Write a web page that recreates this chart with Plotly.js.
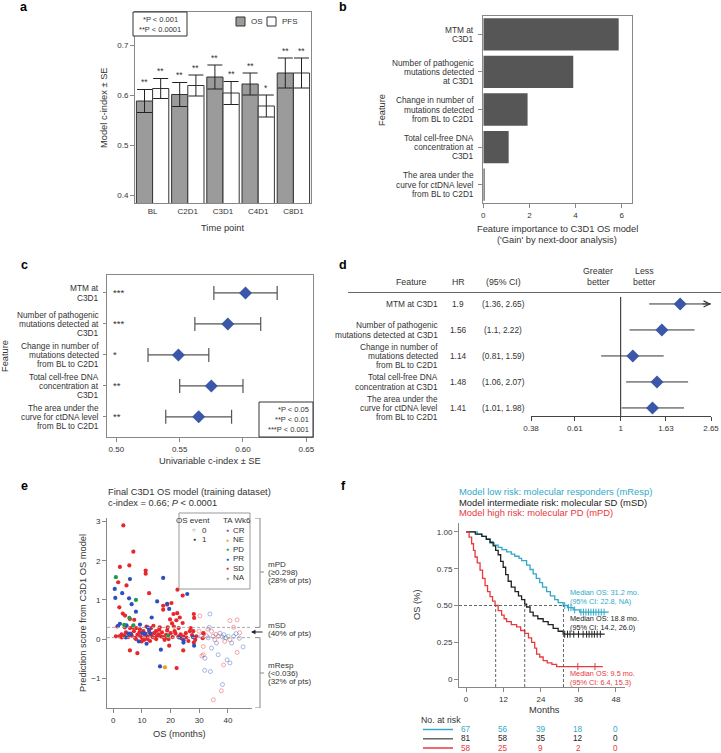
<!DOCTYPE html>
<html><head><meta charset="utf-8">
<script src="https://cdn.plot.ly/plotly-3.0.1.min.js"></script>
<style>html,body{margin:0;padding:0;background:#fff}#chart{width:721px;height:753px}</style>
</head><body><div id="chart"></div>
<script>
const W = 721, H = 753;
const FONT = 'Liberation Sans, Arial, sans-serif';
const TXT = '#333';

// ---------- panel a data ----------
const aCats = ['BL', 'C2D1', 'C3D1', 'C4D1', 'C8D1'];
const aOS = [0.588, 0.601, 0.636, 0.622, 0.644];
const aOSse = [0.023, 0.024, 0.024, 0.022, 0.030];
const aPFS = [0.613, 0.619, 0.604, 0.578, 0.644];
const aPFSse = [0.020, 0.021, 0.023, 0.022, 0.030];
const aOSsig = ['**', '**', '**', '**', '**'];
const aPFSsig = ['**', '**', '**', '*', '**'];
const aTicks = [0.4, 0.5, 0.6, 0.7];

// ---------- panel b data ----------
const bFeatures = ['MTM at<br>C3D1', 'Number of pathogenic<br>mutations detected<br>at C3D1', 'Change in number of<br>mutations detected<br>from BL to C2D1', 'Total cell-free DNA<br>concentration at<br>C3D1', 'The area under the<br>curve for ctDNA level<br>from BL to C2D1'];
const bGain = [5.87, 3.90, 1.92, 1.10, 0.06];
const bTicks = [0, 2, 4, 6];

// ---------- panel c data ----------
const cFeatures = ['MTM at<br>C3D1', 'Number of pathogenic<br>mutations detected at<br>C3D1', 'Change in number of<br>mutations detected<br>from BL to C2D1', 'Total cell-free DNA<br>concentration at<br>C3D1', 'The area under the<br>curve for ctDNA level<br>from BL to C2D1'];
const cCindex = [0.602, 0.588, 0.549, 0.575, 0.565];
const cSE = [0.025, 0.026, 0.024, 0.025, 0.026];
const cSig = ['***', '***', '*', '**', '**'];
const cTicks = [0.50, 0.55, 0.60, 0.65];
const cTickText = ['0.50', '0.55', '0.60', '0.65'];

// ---------- panel d data ----------
const dFeatures = ['MTM at C3D1', 'Number of pathogenic<br>mutations detected at C3D1', 'Change in number of<br>mutations detected<br>from BL to C2D1', 'Total cell-free DNA<br>concentration at C3D1', 'The area under the<br>curve for ctDNA level<br>from BL to C2D1'];
const dHR = [1.9, 1.56, 1.14, 1.48, 1.41];
const dLo = [1.36, 1.1, 0.81, 1.06, 1.01];
const dHi = [2.65, 2.22, 1.59, 2.07, 1.98];
const dHRtext = ['1.9', '1.56', '1.14', '1.48', '1.41'];
const dCItext = ['(1.36, 2.65)', '(1.1, 2.22)', '(0.81, 1.59)', '(1.06, 2.07)', '(1.01, 1.98)'];
const dTicks = [0.38, 0.61, 1, 1.63, 2.65];
const dTickText = ['0.38', '0.61', '1', '1.63', '2.65'];

// ---------- panel e data (OS months, prediction score) ----------
const eSD1_os = [3.5,7.0,2.3,5.6,11.3,11.3,1.7,4.6,12.5,22.4,24.2,2.1,3.3,4.1,1.4,5.8,7.3,17.4,18.8,17.4,20.3,21.0,23.2,22.3,22.0,28.1,28.2,24.2,27.0,21.1,16.0,0.9,2.1,2.9,3.8,4.4,5.2,5.8,6.4,7.2,7.9,8.4,9.1,9.5,9.9,10.5,11.0,11.6,11.8,12.5,13.0,13.7,14.2,14.9,15.3,16.5,17.0,17.4,17.9,18.4,18.8,19.3,19.5,20.0,20.7,21.7,22.7,23.8,24.5,25.3,26.7,27.9,29.0,31.2,31.4,28.1,24.4,5.8,8.4,22.1,6.8,8.0,9.3,10.2,12.0,13.2,14.6,15.8,16.2,19.0,20.5,21.4,22.8,25.5,26.2,3.0,4.0,6.0,7.6,10.8,12.8,14.0,15.0,18.0,19.8,23.5,27.5,28.6];
const eSD1_score = [2.9,2.23,1.84,1.88,1.75,1.67,1.45,1.37,1.17,1.26,1.11,0.81,0.65,0.6,0.32,0.51,0.49,0.85,0.88,0.75,0.92,0.64,0.55,0.66,0.48,0.64,0.54,0.41,0.28,0.32,0.24,0.07,0.07,0.12,0.09,0.17,0.05,0.28,0.09,0.2,0.0,0.11,0.17,0.07,-0.06,0.2,0.11,0.32,0.07,0.18,0.11,0.05,0.15,0.2,0.09,0.07,0.17,0.05,-0.02,0.11,0.22,0.0,-0.17,0.15,0.05,0.14,0.06,0.02,0.06,0.15,0.2,0.2,0.07,0.02,0.15,-0.09,-0.29,-0.29,-0.36,-0.74,0.3,0.28,0.25,0.02,0.0,0.28,0.03,0.12,0.3,0.3,0.4,0.2,0.28,0.04,-0.05,0.04,0.3,0.14,0.03,-0.02,-0.05,0.34,0.0,0.02,0.5,0.12,0.1,-0.02];
const ePR1_os = [0.5,0.7,3.1,5.8,5.5,6.4,7.9,17.4,15.3,18.8,19.5,13.4,2.3,1.7,4.6,5.2,4.4,9.3,12.5,8.9,11.6,16.6,16.3,25.8,24.5,24.5,28.2,10.2,11.2,12.0,13.0,6.2,27.8,23.0];
const ePR1_score = [1.28,1.05,1.17,1.53,1.04,0.89,0.70,1.56,0.96,0.9,0.77,0.55,0.39,0.34,0.35,0.14,0.04,0.37,0.24,-0.06,-0.12,-0.27,-0.7,1.15,-0.03,-0.09,-0.17,0.15,0.13,0.3,0.14,0.12,0.05,0.04];
const ePD1_os = [0.9,7.9,5.6,3.8,7.0,19.2];
const ePD1_score = [1.58,1.0,0.54,0.36,0.35,0.09];
const eNE1_os = [18.0];
const eNE1_score = [-0.72];
const eSD0_os = [30.2,40.7,43.2,34.3,29.9,31.6,32.5,35.4,36.6,40.7,44.1,31.4,31.4,43.2,38.5,37.7,34.9,38.9,30.9,33.0,35.8,42.0];
const eSD0_score = [0.59,0.47,0.49,0.2,0.2,0.14,0.08,-0.02,0.07,-0.02,0.16,-0.19,-0.4,-0.34,-0.66,-1.32,-1.55,-0.06,-0.43,0.25,0.12,0.3];
const ePR0_os = [33.7,33.5,30.8,33.1,34.8,37.2,38.1,38.6,39.3,42.0,42.8,45.3,34.3,36.6,39.7,40.7,31.9,33.9,38.1,36.0,41.3,32.0,44.0];
const ePR0_score = [0.64,0.30,0.08,0.03,0.07,0.15,0.05,0.11,0.03,0.07,0.14,-0.2,-0.23,-0.4,-0.53,-0.61,-0.8,-0.83,-1.16,-0.1,-0.1,-0.49,0.02];
const ePD0_os = [40.1];
const ePD0_score = [0.07];
const eCutHigh = 0.298, eCutLow = 0.036;
const eTAclasses = ['CR', 'NE', 'PD', 'PR', 'SD', 'NA'];
const eTAcolors = ['#8e44ad', '#f39c12', '#1f9a4a', '#2c4fc0', '#e8262b', '#8a8a8a'];
const eXticks = [0, 10, 20, 30, 40];
const eYticks = [-1, 0, 1, 2, 3];
const eYrange = [-1.76, 3.09];

// ---------- panel f data (Kaplan-Meier) ----------
const fCyanT = [0,3.6,5.0,6.5,7.7,9.0,10.3,11.5,13.0,14.5,15.6,17.0,17.8,19.4,20.5,21.5,22.5,23.6,24.5,25.8,27.0,28.4,29.5,31.1,32.5,34.3,36.4,45.7];
const fCyanS = [1,0.985,0.97,0.955,0.925,0.91,0.895,0.88,0.865,0.85,0.835,0.82,0.805,0.775,0.745,0.715,0.685,0.655,0.625,0.595,0.565,0.54,0.52,0.50,0.485,0.47,0.455,0.455];
const fBlackT = [0,3.0,5.1,6.5,7.7,8.7,9.5,10.3,11.1,11.9,12.7,13.5,14.5,15.7,16.8,17.8,18.8,19.4,20.5,21.5,23.0,24.7,26.3,27.9,29.5,31.1,44.4];
const fBlackS = [1,0.985,0.97,0.95,0.93,0.905,0.875,0.845,0.80,0.76,0.71,0.665,0.625,0.595,0.565,0.54,0.51,0.49,0.455,0.43,0.41,0.39,0.37,0.345,0.325,0.305,0.305];
const fRedT = [0,1.0,1.8,2.4,2.9,3.6,4.5,5.3,6.1,6.9,7.7,8.5,9.3,10.3,11.4,12.2,13.0,14.5,16.2,17.5,18.8,20.0,21.0,22.0,22.6,23.6,24.7,26.0,27.5,29.0,43.8];
const fRedS = [1,0.965,0.92,0.875,0.83,0.79,0.74,0.685,0.635,0.595,0.56,0.53,0.50,0.465,0.435,0.41,0.39,0.37,0.355,0.33,0.31,0.28,0.25,0.21,0.17,0.15,0.125,0.11,0.10,0.085,0.085];
const fCyanCens = [31.6,32.8,33.6,34.8,36.8,37.6,38.4,39.2,40.0,40.8,41.6,42.5,43.3,44.2];
const fBlackCens = [31.6,32.5,33.3,34.5,36.0,37.5,38.6,39.4,40.3,41.1,42.0,43.0];
const fRedCens = [35.8,41.3];
const fMedians = [31.2, 18.8, 9.5];
const fRiskTimes = [0, 12, 24, 36, 48];
const fRiskCyan = [67, 56, 39, 18, 0];
const fRiskBlack = [81, 58, 35, 12, 0];
const fRiskRed = [58, 25, 9, 2, 0];
const fXrange = [-2.24, 50.9];
const fYrange = [-0.054, 1.061];
const CYAN = '#31a9c7', RED = '#e8393e', BLK = '#222';

// ---------- helpers ----------
const px = x => x / W;
const py = y => 1 - y / H;
function A(text, x, y, o = {}) {
  const font = Object.assign({family: FONT, size: 8, color: TXT}, o.font || {});
  return Object.assign({text, xref: 'paper', yref: 'paper', x: px(x), y: py(y), showarrow: false,
    xanchor: 'center', yanchor: 'middle'}, o, {font});
}
function mlines(text, xPaper, yref, yval, lineH, size, xanchor) {
  const L = text.split('<br>');
  return L.map((s, k) => ({text: s, xref: 'paper', x: xPaper, xanchor: xanchor || 'right',
    yref, y: yval, yanchor: 'middle', yshift: ((L.length - 1) / 2 - k) * lineH, showarrow: false,
    font: {family: FONT, size, color: TXT}}));
}
function ax(o) {
  return Object.assign({showgrid: false, zeroline: false, ticks: 'outside', ticklen: 4, tickwidth: 1,
    tickcolor: '#888', linecolor: '#888', linewidth: 1, showline: true, fixedrange: true,
    tickfont: {family: FONT, size: 8, color: TXT}}, o);
}
function stepAt(ts, ss, t) { let v = ss[0]; for (let i = 0; i < ts.length; i++) if (ts[i] <= t) v = ss[i]; return v; }

const traces = [];
const annotations = [];
const shapes = [];

// ---------- panel a ----------
traces.push({type: 'bar', x: aCats, y: aOS, name: 'OS', xaxis: 'x', yaxis: 'y',
  marker: {color: '#9b9b9b', line: {color: '#333', width: 1}},
  error_y: {type: 'data', array: aOSse, color: '#222', thickness: 1, width: 7.5}});
traces.push({type: 'bar', x: aCats, y: aPFS, name: 'PFS', xaxis: 'x', yaxis: 'y',
  marker: {color: '#ffffff', line: {color: '#333', width: 1}},
  error_y: {type: 'data', array: aPFSse, color: '#222', thickness: 1, width: 7.5}});
aCats.forEach((c, i) => {
  annotations.push({text: aOSsig[i], xref: 'x', yref: 'y', x: c, y: aOS[i] + aOSse[i], xshift: -8.1, xanchor: 'center', yanchor: 'bottom', showarrow: false, font: {family: FONT, size: 8.5, color: TXT}});
  annotations.push({text: aPFSsig[i], xref: 'x', yref: 'y', x: c, y: aPFS[i] + aPFSse[i], xshift: 8.1, xanchor: 'center', yanchor: 'bottom', showarrow: false, font: {family: FONT, size: 8.5, color: TXT}});
});
shapes.push({type: 'rect', xref: 'paper', yref: 'paper', x0: px(133), x1: px(187), y0: py(36), y1: py(12), fillcolor: '#fff', line: {color: '#333', width: 1}, layer: 'above'});
annotations.push(A('*P &lt; 0.001', 160, 20, {font: {size: 7.5}}));
annotations.push(A('**P &lt; 0.0001', 160, 30, {font: {size: 7.5}}));
shapes.push({type: 'rect', xref: 'paper', yref: 'paper', x0: px(236), x1: px(245), y0: py(26), y1: py(17), fillcolor: '#9b9b9b', line: {color: '#333', width: 1}});
annotations.push(A('OS', 249, 21.5, {xanchor: 'left', font: {size: 8}}));
shapes.push({type: 'rect', xref: 'paper', yref: 'paper', x0: px(267), x1: px(276), y0: py(26), y1: py(17), fillcolor: '#fff', line: {color: '#333', width: 1}});
annotations.push(A('PFS', 280, 21.5, {xanchor: 'left', font: {size: 8}}));
annotations.push(A('Model c-index ± SE', 104, 108, {textangle: -90, font: {size: 9.3}}));
annotations.push(A('Time point', 223, 228, {font: {size: 9.3}}));

// ---------- panel b ----------
traces.push({type: 'bar', orientation: 'h', x: bGain, y: bFeatures.map((_, i) => i), xaxis: 'x2', yaxis: 'y2',
  marker: {color: '#565656'}, width: 0.86});
bFeatures.forEach((f, i) => annotations.push(...mlines(f, px(476), 'y2', i, 9.2, 8.3)));
annotations.push(A('Feature', 382, 110, {textangle: -90, font: {size: 9.3}}));
annotations.push(A('Feature importance to C3D1 OS model', 557, 229, {font: {size: 9.3}}));
annotations.push(A("('Gain' by next-door analysis)", 557, 240, {font: {size: 9.3}}));

// ---------- panel c ----------
traces.push({type: 'scatter', mode: 'markers', x: cCindex, y: cFeatures.map((_, i) => i), xaxis: 'x3', yaxis: 'y3',
  marker: {symbol: 'diamond', size: 10, color: '#3b57a8'},
  error_x: {type: 'data', array: cSE, color: '#555', thickness: 1.2, width: 7}});
cFeatures.forEach((f, i) => {
  annotations.push(...mlines(f, px(101), 'y3', i, 9.2, 8.3));
  annotations.push({text: cSig[i], xref: 'paper', x: px(111), xanchor: 'left', yref: 'y3', y: i, yanchor: 'middle', showarrow: false, font: {family: FONT, size: 9.5, color: TXT}});
});
shapes.push({type: 'rect', xref: 'paper', yref: 'paper', x0: px(259), x1: px(313), y0: py(437), y1: py(402), fillcolor: 'rgba(0,0,0,0)', line: {color: '#333', width: 1}});
annotations.push(A('*P &lt; 0.05', 311, 410, {xanchor: 'right', font: {size: 7.5}}));
annotations.push(A('**P &lt; 0.01', 311, 419.5, {xanchor: 'right', font: {size: 7.5}}));
annotations.push(A('***P &lt; 0.001', 311, 429, {xanchor: 'right', font: {size: 7.5}}));
annotations.push(A('Feature', 5, 356, {textangle: -90, font: {size: 9.3}}));
annotations.push(A('Univariable c-index ± SE', 210, 461, {font: {size: 9.3}}));

// ---------- panel d ----------
const dLineX = [], dLineY = [];
dHR.forEach((h, i) => { dLineX.push(dLo[i], dHi[i], null); dLineY.push(i, i, null); });
traces.push({type: 'scatter', mode: 'lines', x: dLineX, y: dLineY, xaxis: 'x4', yaxis: 'y4', line: {color: '#333', width: 1}, hoverinfo: 'skip'});
traces.push({type: 'scatter', mode: 'lines', x: [1, 1], y: [-0.27, 4.31], xaxis: 'x4', yaxis: 'y4', line: {color: '#222', width: 1}, hoverinfo: 'skip'});
traces.push({type: 'scatter', mode: 'markers', x: dHR, y: dHR.map((_, i) => i), xaxis: 'x4', yaxis: 'y4', marker: {symbol: 'diamond', size: 10, color: '#3b57a8'}});
annotations.push({text: '', xref: 'x4', yref: 'y4', x: Math.log10(dHi[0]), y: 0, ax: -10, ay: 0, axref: 'pixel', ayref: 'pixel', showarrow: true, arrowhead: 5, arrowsize: 1.2, arrowwidth: 1, arrowcolor: '#333'});
dFeatures.forEach((f, i) => {
  annotations.push(...mlines(f, px(440), 'y4', i, 9.2, 8.3));
  annotations.push({text: dHRtext[i], xref: 'paper', x: px(458), xanchor: 'center', yref: 'y4', y: i, yanchor: 'middle', showarrow: false, font: {family: FONT, size: 8.3, color: TXT}});
  annotations.push({text: dCItext[i], xref: 'paper', x: px(503), xanchor: 'center', yref: 'y4', y: i, yanchor: 'middle', showarrow: false, font: {family: FONT, size: 8.3, color: TXT}});
});
annotations.push(A('Feature', 411, 281.5, {font: {size: 8.8}}));
annotations.push(A('HR', 458, 281.5, {font: {size: 8.8}}));
annotations.push(A('(95% CI)', 503, 281.5, {font: {size: 8.8}}));
annotations.push(A('Greater', 598, 270.5, {font: {size: 8.8}}));
annotations.push(A('better', 598, 281.5, {font: {size: 8.8}}));
annotations.push(A('Less', 644, 270.5, {font: {size: 8.8}}));
annotations.push(A('better', 644, 281.5, {font: {size: 8.8}}));
shapes.push({type: 'line', xref: 'paper', yref: 'paper', x0: px(348), x1: px(721), y0: py(292.5), y1: py(292.5), line: {color: '#666', width: 1}});

// ---------- panel e ----------
const eGroups = [
  {os: eSD0_os, sc: eSD0_score, ta: 'SD', ev: 0}, {os: ePR0_os, sc: ePR0_score, ta: 'PR', ev: 0}, {os: ePD0_os, sc: ePD0_score, ta: 'PD', ev: 0},
  {os: eSD1_os, sc: eSD1_score, ta: 'SD', ev: 1}, {os: ePR1_os, sc: ePR1_score, ta: 'PR', ev: 1},
  {os: ePD1_os, sc: ePD1_score, ta: 'PD', ev: 1}, {os: eNE1_os, sc: eNE1_score, ta: 'NE', ev: 1}];
eGroups.forEach(g => {
  const col = eTAcolors[eTAclasses.indexOf(g.ta)];
  traces.push({type: 'scatter', mode: 'markers', x: g.os, y: g.sc, xaxis: 'x5', yaxis: 'y5',
    marker: g.ev ? {symbol: 'circle', size: 4.2, color: col} : {symbol: 'circle-open', size: 4, color: col, opacity: 0.5, line: {width: 0.8}}});
});
[eCutHigh, eCutLow].forEach(c => shapes.push({type: 'line', xref: 'x5 domain', yref: 'y5', x0: 0, x1: 1, y0: c, y1: c, line: {color: '#aaa', width: 1, dash: '3px,2px'}}));
annotations.push(A('Final C3D1 OS model (training dataset)', 106, 492, {xanchor: 'left', font: {size: 9.3}}));
annotations.push(A('c-index = 0.66; <i>P</i> &lt; 0.0001', 106, 503, {xanchor: 'left', font: {size: 9.3}}));
annotations.push(A('Prediction score from C3D1 OS model', 83, 613, {textangle: -90, font: {size: 9.3}}));
annotations.push(A('OS (months)', 179, 734, {font: {size: 9.3}}));
// legend box
shapes.push({type: 'rect', xref: 'paper', yref: 'paper', x0: px(179), x1: px(250), y0: py(589), y1: py(513), fillcolor: '#fff', line: {color: '#999', width: 1}, layer: 'above'});
annotations.push(A('OS event', 193, 520, {font: {size: 8}}));
annotations.push(A('TA Wk6', 237, 520, {font: {size: 8}}));
annotations.push(A('○', 194, 530, {font: {size: 6}}));
annotations.push(A('0', 200, 530, {xanchor: 'left', font: {size: 8}}));
annotations.push(A('●', 194, 539, {font: {size: 5}}));
annotations.push(A('1', 200, 539, {xanchor: 'left', font: {size: 8}}));
eTAclasses.forEach((c, i) => {
  const yy = 530 + i * 9.5;
  annotations.push(A('●', 227, yy, {font: {size: 5, color: eTAcolors[i]}}));
  annotations.push(A(c, 231, yy, {xanchor: 'left', font: {size: 8}}));
});
// brackets
const BR = '#888';
[[eCutHigh, eYrange[1]], [eYrange[0], eCutLow]].forEach(([a, b]) => {
  shapes.push({type: 'line', xref: 'paper', yref: 'y5', x0: px(260), x1: px(260), y0: a, y1: b, line: {color: BR, width: 1}});
  shapes.push({type: 'line', xref: 'paper', yref: 'y5', x0: px(255), x1: px(260), y0: a, y1: a, line: {color: BR, width: 1}});
  shapes.push({type: 'line', xref: 'paper', yref: 'y5', x0: px(255), x1: px(260), y0: b, y1: b, line: {color: BR, width: 1}});
});
shapes.push({type: 'line', xref: 'paper', yref: 'paper', x0: px(260), x1: px(264), y0: py(572), y1: py(572), line: {color: BR, width: 1}});
shapes.push({type: 'line', xref: 'paper', yref: 'paper', x0: px(260), x1: px(264), y0: py(673), y1: py(673), line: {color: BR, width: 1}});
annotations.push(...['mPD', '(≥0.298)', '(28% of pts)'].map((s, k) => A(s, 266, 564 + k * 8, {xanchor: 'left', font: {size: 8}})));
annotations.push(...['mSD', '(40% of pts)'].map((s, k) => A(s, 266, 625 + k * 8, {xanchor: 'left', font: {size: 8}})));
annotations.push(...['mResp', '(&lt;0.036)', '(32% of pts)'].map((s, k) => A(s, 266, 665 + k * 8, {xanchor: 'left', font: {size: 8}})));
annotations.push({text: '', xref: 'paper', yref: 'paper', x: px(251), y: py(632), ax: 13, ay: 0, showarrow: true, arrowhead: 2, arrowsize: 0.9, arrowwidth: 1, arrowcolor: '#222'});

// ---------- panel f ----------
[[fCyanT, fCyanS, fCyanCens, CYAN], [fBlackT, fBlackS, fBlackCens, BLK], [fRedT, fRedS, fRedCens, RED]].forEach(([t, s, cens, col]) => {
  traces.push({type: 'scatter', mode: 'lines', x: t, y: s, xaxis: 'x6', yaxis: 'y6', line: {color: col, width: 1.3, shape: 'hv'}});
  traces.push({type: 'scatter', mode: 'markers', x: cens, y: cens.map(c => stepAt(t, s, c)), xaxis: 'x6', yaxis: 'y6',
    marker: {symbol: 'line-ns-open', size: 5, color: col, line: {width: 1, color: col}}});
});
shapes.push({type: 'line', xref: 'x6', yref: 'y6', x0: fXrange[0], x1: fMedians[0], y0: 0.5, y1: 0.5, line: {color: '#555', width: 0.9, dash: '3px,2px'}});
fMedians.forEach(m => shapes.push({type: 'line', xref: 'x6', yref: 'y6', x0: m, x1: m, y0: fYrange[0], y1: 0.5, line: {color: '#555', width: 0.9, dash: '3px,2px'}}));
annotations.push(A('Model low risk: molecular responders (mResp)', 457, 491.5, {xanchor: 'left', font: {size: 9.4, color: CYAN}}));
annotations.push(A('Model intermediate risk: molecular SD (mSD)', 457, 502.5, {xanchor: 'left', font: {size: 9.4, color: BLK}}));
annotations.push(A('Model high risk: molecular PD (mPD)', 457, 512.5, {xanchor: 'left', font: {size: 9.4, color: RED}}));
annotations.push(A('Median OS: 31.2 mo.', 568, 592.5, {xanchor: 'left', font: {size: 7.3, color: CYAN}}));
annotations.push(A('(95% CI: 22.8, NA)', 568, 601, {xanchor: 'left', font: {size: 7.3, color: CYAN}}));
annotations.push(A('Median OS: 18.8 mo.', 568, 618.5, {xanchor: 'left', font: {size: 7.3, color: BLK}}));
annotations.push(A('(95% CI: 14.2, 26.0)', 568, 627, {xanchor: 'left', font: {size: 7.3, color: BLK}}));
annotations.push(A('Median OS: 9.5 mo.', 568, 673.5, {xanchor: 'left', font: {size: 7.3, color: RED}}));
annotations.push(A('(95% CI: 6.4, 15.3)', 568, 682, {xanchor: 'left', font: {size: 7.3, color: RED}}));
annotations.push(A('OS (%)', 417, 605, {textangle: -90, font: {size: 9.3}}));
annotations.push(A('Months', 544, 710, {font: {size: 9.3}}));
annotations.push(A('No. at risk', 419, 719.5, {xanchor: 'left', font: {size: 8.8}}));
[[fRiskCyan, CYAN, 729.5, CYAN], [fRiskBlack, BLK, 738.8, '#666'], [fRiskRed, RED, 748, RED]].forEach(([vals, col, yy, lc]) => {
  shapes.push({type: 'line', xref: 'paper', yref: 'paper', x0: px(423), x1: px(453), y0: py(yy), y1: py(yy), line: {color: lc, width: 1.5}});
  vals.forEach((v, i) => annotations.push({text: String(v), xref: 'x6', x: fRiskTimes[i], xanchor: 'center', yref: 'paper', y: py(yy), showarrow: false, yanchor: 'middle', font: {family: FONT, size: 8.2, color: col}}));
});

// ---------- panel letters ----------
[['a', 24, 7], ['b', 343, 7], ['c', 24, 265], ['d', 343, 265], ['e', 24, 486], ['f', 343, 486]].forEach(([t, x, y]) =>
  annotations.push(A('<b>' + t + '</b>', x, y, {font: {size: 12.5, color: '#000'}})));

const layout = {
  width: W, height: H, margin: {l: 0, r: 0, t: 0, b: 0}, paper_bgcolor: '#fff', plot_bgcolor: 'rgba(0,0,0,0)',
  showlegend: false, font: {family: FONT, size: 8, color: TXT}, barmode: 'group', bargap: 0.08, bargroupgap: 0,
  xaxis: ax({domain: [px(135), px(311)], anchor: 'y', type: 'category', range: [-0.5, 4.5], mirror: true, ticks: ''}),
  yaxis: ax({domain: [py(203), py(12)], anchor: 'x', range: [0.384, 0.766], tickvals: aTicks, ticktext: aTicks.map(v => v.toFixed(1)), mirror: true}),
  xaxis2: ax({domain: [px(483.3), px(632.3)], anchor: 'y2', range: [0, 6.46], tickvals: bTicks, mirror: true}),
  yaxis2: ax({domain: [py(203.3), py(15.7)], anchor: 'x2', range: [4.5, -0.5], tickvals: [0, 1, 2, 3, 4], showticklabels: false, mirror: true}),
  xaxis3: ax({domain: [px(107), px(313)], anchor: 'y3', range: [0.4926, 0.6553], tickvals: cTicks, ticktext: cTickText, mirror: true}),
  yaxis3: ax({domain: [py(437), py(275)], anchor: 'x3', range: [4.65, -0.58], tickvals: [0, 1, 2, 3, 4], showticklabels: false, mirror: true, ticklen: 3}),
  xaxis4: ax({type: 'log', domain: [px(531), px(711)], anchor: 'y4', range: [Math.log10(0.38), Math.log10(2.65)], tickvals: dTicks, ticktext: dTickText, linecolor: '#444', tickcolor: '#444'}),
  yaxis4: {domain: [py(416), py(292)], anchor: 'x4', range: [4.31, -0.46], visible: false, fixedrange: true},
  xaxis5: ax({domain: [px(107), px(252)], anchor: 'y5', range: [-2.2, 48.4], tickvals: eXticks}),
  yaxis5: ax({domain: [py(708), py(518)], anchor: 'x5', range: eYrange, tickvals: eYticks}),
  xaxis6: ax({domain: [px(459), px(625)], anchor: 'y6', range: fXrange, tickvals: fRiskTimes}),
  yaxis6: ax({domain: [py(687), py(523)], anchor: 'x6', range: fYrange, tickvals: [0, 0.25, 0.5, 0.75, 1], ticktext: ['0', '0.25', '0.50', '0.75', '1.00']}),
  shapes, annotations
};
Plotly.newPlot('chart', traces, layout, {displayModeBar: false, staticPlot: true});
</script></body></html>
